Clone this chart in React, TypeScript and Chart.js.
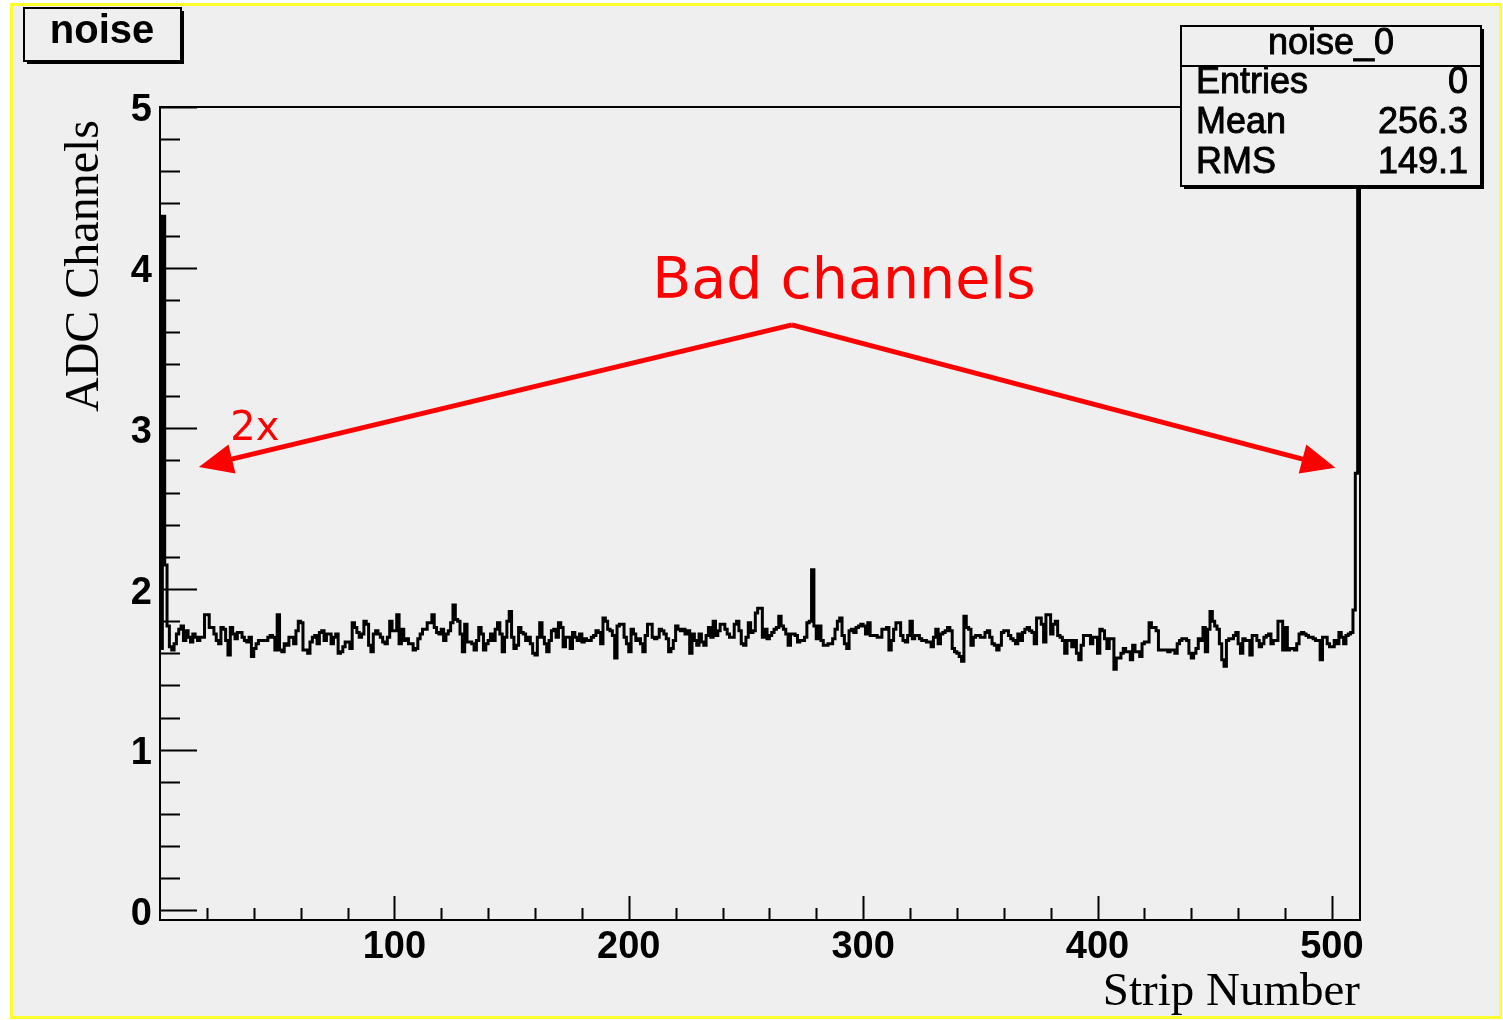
import React, { useEffect, useRef } from "react";
import { Chart, registerables } from "chart.js";
Chart.register(...registerables);

const W = 1503;
const H = 1020;

// ADC noise per strip (512 strips)
const noiseADC = [
  1.63, 4.32, 2.15, 1.77, 1.64, 1.62, 1.66, 1.72, 1.75, 1.77,
  1.68, 1.74, 1.70, 1.67, 1.72, 1.70, 1.68, 1.70, 1.70, 1.84,
  1.84, 1.76, 1.76, 1.72, 1.68, 1.66, 1.76, 1.75, 1.68, 1.59,
  1.76, 1.72, 1.69, 1.73, 1.73, 1.70, 1.68, 1.67, 1.70, 1.58,
  1.63, 1.66, 1.68, 1.68, 1.68, 1.68, 1.70, 1.71, 1.70, 1.62,
  1.84, 1.62, 1.61, 1.66, 1.65, 1.70, 1.70, 1.66, 1.74, 1.80,
  1.79, 1.62, 1.62, 1.60, 1.67, 1.70, 1.71, 1.66, 1.73, 1.74,
  1.68, 1.72, 1.72, 1.66, 1.70, 1.72, 1.60, 1.61, 1.64, 1.67,
  1.67, 1.63, 1.79, 1.76, 1.73, 1.70, 1.72, 1.80, 1.78, 1.65,
  1.61, 1.72, 1.74, 1.72, 1.70, 1.67, 1.66, 1.70, 1.80, 1.74,
  1.74, 1.84, 1.66, 1.75, 1.68, 1.69, 1.66, 1.66, 1.62, 1.63,
  1.69, 1.72, 1.75, 1.75, 1.79, 1.79, 1.84, 1.76, 1.73, 1.72,
  1.75, 1.68, 1.72, 1.74, 1.79, 1.90, 1.81, 1.80, 1.72, 1.61,
  1.78, 1.67, 1.67, 1.66, 1.62, 1.68, 1.76, 1.72, 1.62, 1.66,
  1.68, 1.72, 1.68, 1.75, 1.79, 1.72, 1.61, 1.70, 1.80, 1.86,
  1.70, 1.63, 1.65, 1.76, 1.73, 1.72, 1.68, 1.70, 1.66, 1.60,
  1.59, 1.70, 1.79, 1.70, 1.66, 1.61, 1.68, 1.74, 1.75, 1.70,
  1.79, 1.76, 1.64, 1.70, 1.70, 1.63, 1.73, 1.70, 1.68, 1.72,
  1.67, 1.69, 1.68, 1.68, 1.70, 1.71, 1.74, 1.73, 1.66, 1.82,
  1.80, 1.75, 1.74, 1.71, 1.57, 1.77, 1.78, 1.78, 1.70, 1.66,
  1.61, 1.75, 1.72, 1.68, 1.69, 1.66, 1.61, 1.71, 1.78, 1.78,
  1.70, 1.69, 1.70, 1.75, 1.74, 1.72, 1.69, 1.61, 1.63, 1.68,
  1.77, 1.75, 1.74, 1.75, 1.72, 1.74, 1.60, 1.72, 1.68, 1.65,
  1.72, 1.67, 1.65, 1.71, 1.76, 1.70, 1.80, 1.71, 1.74, 1.78,
  1.78, 1.75, 1.72, 1.70, 1.70, 1.78, 1.80, 1.74, 1.66, 1.65,
  1.70, 1.79, 1.73, 1.74, 1.85, 1.88, 1.88, 1.70, 1.75, 1.69,
  1.71, 1.73, 1.75, 1.76, 1.83, 1.77, 1.75, 1.72, 1.65, 1.72,
  1.72, 1.71, 1.67, 1.68, 1.68, 1.70, 1.79, 1.80, 2.12, 1.77,
  1.69, 1.77, 1.68, 1.65, 1.65, 1.66, 1.66, 1.69, 1.75, 1.80,
  1.82, 1.71, 1.66, 1.63, 1.74, 1.75, 1.73, 1.76, 1.77, 1.78,
  1.77, 1.72, 1.79, 1.71, 1.71, 1.71, 1.70, 1.70, 1.75, 1.75,
  1.76, 1.62, 1.68, 1.75, 1.79, 1.79, 1.71, 1.68, 1.67, 1.71,
  1.80, 1.69, 1.71, 1.71, 1.69, 1.68, 1.68, 1.67, 1.67, 1.64,
  1.70, 1.75, 1.66, 1.72, 1.73, 1.74, 1.76, 1.74, 1.63, 1.61,
  1.60, 1.58, 1.55, 1.83, 1.76, 1.75, 1.65, 1.70, 1.71, 1.71,
  1.70, 1.70, 1.73, 1.74, 1.70, 1.66, 1.65, 1.62, 1.65, 1.73,
  1.74, 1.74, 1.71, 1.69, 1.68, 1.66, 1.72, 1.68, 1.73, 1.75,
  1.76, 1.74, 1.73, 1.66, 1.82, 1.82, 1.78, 1.67, 1.84, 1.84,
  1.72, 1.78, 1.80, 1.71, 1.70, 1.68, 1.60, 1.68, 1.68, 1.64,
  1.68, 1.60, 1.56, 1.65, 1.71, 1.71, 1.71, 1.66, 1.70, 1.70,
  1.60, 1.75, 1.74, 1.69, 1.63, 1.69, 1.69, 1.50, 1.57, 1.57,
  1.60, 1.63, 1.61, 1.61, 1.56, 1.65, 1.61, 1.61, 1.58, 1.66,
  1.67, 1.67, 1.79, 1.76, 1.76, 1.74, 1.62, 1.62, 1.62, 1.62,
  1.61, 1.62, 1.62, 1.60, 1.66, 1.68, 1.69, 1.69, 1.68, 1.60,
  1.57, 1.60, 1.63, 1.69, 1.68, 1.76, 1.61, 1.75, 1.86, 1.80,
  1.77, 1.75, 1.66, 1.56, 1.52, 1.68, 1.69, 1.69, 1.71, 1.73,
  1.66, 1.60, 1.69, 1.68, 1.68, 1.59, 1.71, 1.71, 1.68, 1.64,
  1.66, 1.70, 1.71, 1.72, 1.66, 1.68, 1.68, 1.80, 1.80, 1.62,
  1.76, 1.62, 1.63, 1.63, 1.62, 1.66, 1.72, 1.73, 1.72, 1.71,
  1.70, 1.70, 1.69, 1.68, 1.68, 1.56, 1.70, 1.70, 1.66, 1.64,
  1.64, 1.68, 1.66, 1.73, 1.70, 1.66, 1.71, 1.72, 1.73, 1.87,
  2.72, 6.0,
];

const nStrips = 512;
const xMajorTicks = [100, 200, 300, 400, 500];
const xMinorStep = 20;
const yMajorTicks = [0, 1, 2, 3, 4, 5];
const yMinorStep = 0.2;
const yMin = -0.06;
const yMax = 5;

const histTitle = "noise";
const statsTitle = "noise_0";
const statsLabels = ["Entries", "Mean", "RMS"];
const statsValues = ["0", "256.3", "149.1"];
const xAxisTitle = "Strip Number";
const yAxisTitle = "ADC Channels";
const noteText = "Bad channels";
const countText = "2x";
// annotation anchors in data coordinates (strip, ADC)
const noteAnchor = { x: 210, y: 3.81 };
const countAnchor = { x: 30, y: 2.93 };
const arrowApex = { x: 269.6, y: 3.644 };
const arrowTips = [
  { x: 16.6, y: 2.76 },
  { x: 501.5, y: 2.755 },
];

const BG = "#efefef";

function drawArrowHead(ctx: CanvasRenderingContext2D, fx: number, fy: number, tx: number, ty: number) {
  const ang = Math.atan2(ty - fy, tx - fx);
  const len = 34;
  const hw = 15;
  const bx = tx - len * Math.cos(ang);
  const by = ty - len * Math.sin(ang);
  ctx.beginPath();
  ctx.moveTo(tx, ty);
  ctx.lineTo(bx + hw * Math.sin(ang), by - hw * Math.cos(ang));
  ctx.lineTo(bx - hw * Math.sin(ang), by + hw * Math.cos(ang));
  ctx.closePath();
  ctx.fill();
}

const rootPlugin = {
  id: "rootStyle",
  beforeDraw(chart: any) {
    const ctx = chart.ctx;
    ctx.save();
    ctx.fillStyle = "#ffffff";
    ctx.fillRect(0, 0, W, H);
    ctx.fillStyle = BG;
    ctx.fillRect(11, 4, 1490, 1014);
    ctx.strokeStyle = "#ffff30";
    ctx.lineWidth = 3;
    ctx.strokeRect(11.5, 4.5, 1489, 1013);
    ctx.restore();
  },
  afterDraw(chart: any) {
    const ctx: CanvasRenderingContext2D = chart.ctx;
    const { left, right, top, bottom } = chart.chartArea;
    const xs = chart.scales.x;
    const ys = chart.scales.y;
    ctx.save();
    ctx.strokeStyle = "#000";
    ctx.lineWidth = 2;
    ctx.strokeRect(left, top, right - left, bottom - top);

    // x ticks (inside)
    ctx.beginPath();
    for (let v = xMinorStep; v < nStrips; v += xMinorStep) {
      const px = Math.round(xs.getPixelForValue(v)) + 0.5;
      const len = xMajorTicks.includes(v) ? 24 : 12;
      ctx.moveTo(px, bottom);
      ctx.lineTo(px, bottom - len);
    }
    // y ticks (inside)
    for (let i = 0; i * yMinorStep <= yMax + 1e-6; i++) {
      const v = i * yMinorStep;
      const py = Math.round(ys.getPixelForValue(v)) + 0.5;
      const major = i % 5 === 0;
      ctx.moveTo(left, py);
      ctx.lineTo(left + (major ? 37 : 20), py);
    }
    ctx.stroke();

    // axis titles
    ctx.fillStyle = "#000";
    ctx.font = '47px "Liberation Serif", "DejaVu Serif", serif';
    ctx.textAlign = "right";
    ctx.textBaseline = "alphabetic";
    ctx.fillText(xAxisTitle, right, 1005);
    ctx.save();
    ctx.translate(98, 120);
    ctx.rotate(-Math.PI / 2);
    ctx.font = '48px "Liberation Serif", "DejaVu Serif", serif';
    ctx.fillText(yAxisTitle, 0, 0);
    ctx.restore();

    // title box
    ctx.fillStyle = "#000";
    ctx.fillRect(27, 11, 157, 53);
    ctx.fillStyle = BG;
    ctx.fillRect(24, 8, 157, 53);
    ctx.strokeRect(24, 8, 157, 53);
    ctx.fillStyle = "#000";
    ctx.font = 'bold 40px "Liberation Sans", Arial, sans-serif';
    ctx.textAlign = "center";
    ctx.textBaseline = "alphabetic";
    ctx.fillText(histTitle, 102, 43);

    // stats box
    const sx = 1181, sy = 26, sw = 300, sh = 160;
    ctx.fillStyle = "#000";
    ctx.fillRect(sx + 3, sy + 3, sw, sh);
    ctx.fillStyle = BG;
    ctx.fillRect(sx, sy, sw, sh);
    ctx.strokeRect(sx, sy, sw, sh);
    ctx.beginPath();
    ctx.moveTo(sx, sy + 40);
    ctx.lineTo(sx + sw, sy + 40);
    ctx.stroke();
    ctx.fillStyle = "#000";
    ctx.strokeStyle = "#000";
    ctx.lineWidth = 0.9;
    ctx.font = '36px "Liberation Sans", Arial, sans-serif';
    ctx.textAlign = "center";
    ctx.fillText(statsTitle, sx + sw / 2, sy + 28);
    ctx.strokeText(statsTitle, sx + sw / 2, sy + 28);
    statsLabels.forEach((lab, i) => {
      const by = sy + 67 + i * 40;
      ctx.textAlign = "left";
      ctx.fillText(lab, sx + 15, by);
      ctx.strokeText(lab, sx + 15, by);
      ctx.textAlign = "right";
      ctx.fillText(statsValues[i], sx + sw - 13, by);
      ctx.strokeText(statsValues[i], sx + sw - 13, by);
    });

    // red annotations
    ctx.fillStyle = "#ff0000";
    ctx.strokeStyle = "#ff0000";
    ctx.textAlign = "left";
    ctx.font = '57px "DejaVu Sans", Verdana, sans-serif';
    ctx.fillText(noteText, xs.getPixelForValue(noteAnchor.x), ys.getPixelForValue(noteAnchor.y));
    ctx.font = '40px "DejaVu Sans", Verdana, sans-serif';
    ctx.fillText(countText, xs.getPixelForValue(countAnchor.x), ys.getPixelForValue(countAnchor.y));
    const ax = xs.getPixelForValue(arrowApex.x);
    const ay = ys.getPixelForValue(arrowApex.y);
    ctx.lineWidth = 5;
    arrowTips.forEach((t) => {
      const tx = xs.getPixelForValue(t.x);
      const ty = ys.getPixelForValue(t.y);
      const ang = Math.atan2(ty - ay, tx - ax);
      ctx.beginPath();
      ctx.moveTo(ax, ay);
      ctx.lineTo(tx - 25 * Math.cos(ang), ty - 25 * Math.sin(ang));
      ctx.stroke();
      drawArrowHead(ctx, ax, ay, tx, ty);
    });
    ctx.restore();
  },
};

export default function App() {
  const ref = useRef<HTMLCanvasElement | null>(null);
  useEffect(() => {
    const canvas = ref.current;
    if (!canvas) return;
    const points = noiseADC.map((v, i) => ({ x: i, y: v }));
    points.push({ x: nStrips, y: noiseADC[nStrips - 1] });
    const tickFont = { family: '"Liberation Sans", Arial, sans-serif', size: 38, weight: "bold" as const };
    const chart = new Chart(canvas, {
      type: "line",
      data: {
        datasets: [
          {
            data: points,
            stepped: true,
            borderColor: "#000",
            borderWidth: 3,
            pointRadius: 0,
            fill: false,
          },
        ],
      },
      options: {
        animation: false,
        responsive: false,
        devicePixelRatio: 1,
        layout: { padding: { left: 0, top: 107, right: W - 1360, bottom: 0 } },
        plugins: { legend: { display: false }, tooltip: { enabled: false } },
        scales: {
          x: {
            type: "linear",
            min: 0,
            max: nStrips,
            grid: { display: false, drawTicks: false },
            border: { display: false },
            afterBuildTicks: (s: any) => {
              s.ticks = xMajorTicks.map((v) => ({ value: v }));
            },
            afterFit: (s: any) => {
              s.height = H - 920;
            },
            ticks: { color: "#000", font: tickFont, padding: 5, maxRotation: 0, autoSkip: false },
          },
          y: {
            type: "linear",
            min: yMin,
            max: yMax,
            grid: { display: false, drawTicks: false },
            border: { display: false },
            afterBuildTicks: (s: any) => {
              s.ticks = yMajorTicks.map((v) => ({ value: v }));
            },
            afterFit: (s: any) => {
              s.width = 160;
            },
            ticks: { color: "#000", font: tickFont, padding: 8, labelOffset: 4 },
          },
        },
      },
      plugins: [rootPlugin],
    });
    return () => chart.destroy();
  }, []);
  return (
    <div style={{ position: "fixed", left: 0, top: 0, width: W, height: H }}>
      <canvas ref={ref} width={W} height={H} style={{ width: W, height: H, display: "block" }} />
    </div>
  );
}
